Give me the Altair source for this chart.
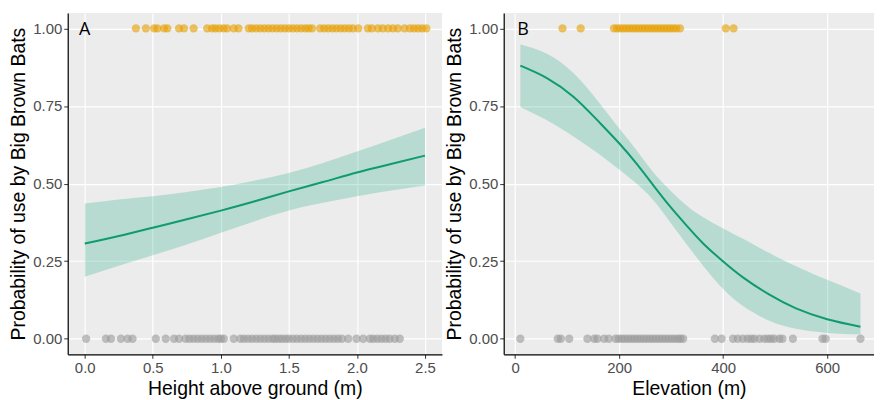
import altair as alt
import pandas as pd

# ---------------- Panel A : height above ground ----------------
a_present_x = [0.376, 0.449, 0.51, 0.534, 0.583, 0.607, 0.693, 0.729, 0.80, 0.90,
               0.936, 0.96, 0.99, 1.02, 1.046, 1.095, 1.13,
               1.205, 1.23, 1.26, 1.29, 1.32, 1.35, 1.38, 1.41, 1.44, 1.47, 1.50,
               1.53, 1.56, 1.59, 1.62, 1.645, 1.67,
               1.73, 1.76, 1.79, 1.82, 1.85, 1.88, 1.91, 1.94, 1.97, 2.01,
               2.08, 2.11, 2.155, 2.19, 2.23, 2.265, 2.30,
               2.35, 2.39, 2.42, 2.45, 2.48, 2.51]
a_absent_x = [0.01, 0.156, 0.193, 0.266, 0.315, 0.351, 0.522, 0.595, 0.656, 0.693,
              0.741, 0.77, 0.80, 0.83, 0.86, 0.89, 0.92, 0.95, 0.98, 1.00, 1.022,
              1.095, 1.144, 1.17, 1.20, 1.23, 1.26, 1.29, 1.32, 1.35, 1.38, 1.40, 1.424,
              1.449, 1.475, 1.50, 1.53, 1.56, 1.59, 1.62, 1.65, 1.68, 1.71, 1.74, 1.77,
              1.80, 1.83, 1.86, 1.89, 1.936,
              1.997, 2.046, 2.095, 2.12, 2.15, 2.18, 2.21, 2.24, 2.278, 2.315]

a_curve_x = [0.0, 0.25, 0.5, 0.75, 1.0, 1.25, 1.5, 1.75, 2.0, 2.25, 2.5]
a_fit = [0.307, 0.331, 0.358, 0.385, 0.413, 0.443, 0.475, 0.505, 0.536, 0.563, 0.590]
a_lower = [0.200, 0.235, 0.269, 0.304, 0.342, 0.379, 0.413, 0.438, 0.459, 0.478, 0.494]
a_upper = [0.436, 0.449, 0.459, 0.473, 0.489, 0.510, 0.534, 0.566, 0.603, 0.641, 0.680]

# ---------------- Panel B : elevation ----------------
b_present_x = [91, 126,
               190, 196, 202, 208, 214, 220, 226, 232, 238, 244, 250, 256, 262, 268,
               274, 280, 286, 292, 298, 304, 310, 317,
               405, 420]
b_absent_x = [10, 82, 88, 104, 139, 152, 158, 171, 180,
              193, 199, 205, 211, 217, 223, 229, 235, 241, 247, 253, 259, 265, 271,
              277, 283, 289, 295, 301, 307, 313, 318, 323,
              384, 397, 419, 428, 438, 447, 454, 460, 470, 479, 486, 492, 498, 508, 514,
              534, 591, 597, 664]

b_curve_x = [10, 61, 112, 157, 200, 233, 265, 297, 329, 361, 400, 438, 489, 540, 600, 664]
b_fit = [0.880, 0.840, 0.780, 0.706, 0.630, 0.565, 0.496, 0.428, 0.366, 0.308,
         0.249, 0.198, 0.142, 0.098, 0.063, 0.039]
b_lower = [0.747, 0.704, 0.652, 0.600, 0.545, 0.500, 0.448, 0.378, 0.306, 0.236,
           0.160, 0.106, 0.058, 0.032, 0.019, 0.014]
b_upper = [0.948, 0.918, 0.856, 0.770, 0.678, 0.608, 0.538, 0.480, 0.430, 0.392,
           0.355, 0.322, 0.276, 0.234, 0.190, 0.146]

y_ticks = [0, 0.25, 0.5, 0.75, 1.0]
y_title = "Probability of use by Big Brown Bats"

ORANGE = "#E69F00"
GREY = "#999999"
GREEN = "#0F9A72"
BAND = "#009E73"
FONT = "Liberation Sans"


def panel(curve_x, fit, lower, upper, pres, absn, x_domain, x_ticks, x_fmt,
          x_title, label, label_x, width):
    curve = pd.DataFrame({"x": curve_x, "fit": fit, "lo": lower, "hi": upper})
    pts = pd.DataFrame({
        "x": list(pres) + list(absn),
        "y": [1.0] * len(pres) + [0.0] * len(absn),
        "grp": ["p"] * len(pres) + ["a"] * len(absn),
    })
    xs = alt.Scale(domain=x_domain, nice=False, zero=False)
    ys = alt.Scale(domain=[-0.05, 1.05], nice=False, zero=False)
    xax = alt.Axis(values=x_ticks, format=x_fmt, title=x_title)
    yax = alt.Axis(values=y_ticks, format=".2f", title=y_title)

    band = alt.Chart(curve).mark_area(color=BAND, opacity=0.22, interpolate="natural").encode(
        x=alt.X("x:Q", scale=xs, axis=xax),
        y=alt.Y("lo:Q", scale=ys, axis=yax),
        y2="hi:Q",
    )
    line = alt.Chart(curve).mark_line(color=GREEN, strokeWidth=2, interpolate="natural").encode(
        x="x:Q", y="fit:Q"
    )
    points = alt.Chart(pts).mark_circle(size=70, opacity=0.6).encode(
        x="x:Q", y="y:Q",
        color=alt.Color("grp:N", scale=alt.Scale(domain=["p", "a"], range=[ORANGE, GREY]),
                        legend=None),
    )
    lab = alt.Chart(pd.DataFrame({"x": [label_x], "y": [1.0], "t": [label]})).mark_text(
        font="Open Sans", fontSize=18, color="black", align="center", baseline="middle",
        dy=2
    ).encode(x="x:Q", y="y:Q", text="t:N")
    return alt.layer(band, line, points, lab).properties(width=width, height=343)


pa = panel(a_curve_x, a_fit, a_lower, a_upper, a_present_x, a_absent_x,
           [-0.125, 2.625], [0, 0.5, 1.0, 1.5, 2.0, 2.5], ".1f",
           "Height above ground (m)", "A", 0.0, 376)
pb = panel(b_curve_x, b_fit, b_lower, b_upper, b_present_x, b_absent_x,
           [-22, 690], [0, 200, 400, 600], "d",
           "Elevation (m)", "B", 15, 372)

chart = alt.hconcat(pa, pb, spacing=2).properties(
    padding={"left": 0, "top": 4, "right": 0, "bottom": 0}
).configure(
    background="white"
).configure_view(
    fill="#EBECEB", stroke=None
).configure_axis(
    grid=True, gridColor="white", gridWidth=1.2,
    domainColor="black", domainWidth=1.2,
    tickColor="#333333", tickSize=4, tickWidth=1,
    labelColor="#4D4D4D", labelFont=FONT, labelFontSize=15, labelPadding=2,
    titleColor="black", titleFont=FONT, titleFontSize=19.5, titleFontWeight="normal",
    titlePadding=4,
)

chart.save("out.html", embed_options={"renderer": "svg", "actions": False})
